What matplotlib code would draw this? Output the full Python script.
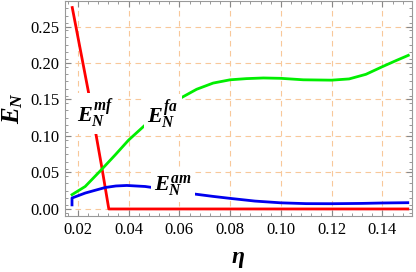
import numpy as np
import matplotlib.pyplot as plt

plt.rcParams['font.family'] = ['Liberation Serif', 'DejaVu Serif']
plt.rcParams['mathtext.fontset'] = 'custom'
plt.rcParams['mathtext.rm'] = 'Liberation Serif:bold:italic'
plt.rcParams['mathtext.it'] = 'Liberation Serif:bold:italic'
plt.rcParams['mathtext.bf'] = 'Liberation Serif:bold:italic'

# values
eta_mf = [0.0178, 0.0242, 0.0295, 0.0322, 0.05, 0.10, 0.15]
en_mf = [0.276, 0.160, 0.056, 0.0, 0.0, 0.0, 0.0]

eta_fa = [0.0177, 0.0229, 0.0292, 0.0347, 0.040, 0.0472, 0.0535, 0.060, 0.0668,
          0.0733, 0.080, 0.0864, 0.0931, 0.10, 0.1088, 0.12, 0.1269, 0.1335,
          0.14, 0.1455, 0.1502]
en_fa = [0.0196, 0.0308, 0.0535, 0.074, 0.0944, 0.1172, 0.135, 0.151, 0.164,
         0.1725, 0.177, 0.1786, 0.1795, 0.179, 0.177, 0.1765, 0.1782, 0.1845,
         0.1950, 0.2035, 0.2105]

eta_am = [0.0177, 0.0177, 0.0229, 0.0262, 0.0308, 0.0350, 0.0393, 0.0465, 0.051,
          0.058, 0.0661, 0.0733, 0.080, 0.0898, 0.10, 0.11, 0.12, 0.1318, 0.14, 0.15]
en_am = [0.0056, 0.015, 0.0218, 0.025, 0.0294, 0.0315, 0.0322, 0.0308, 0.0286,
         0.0245, 0.0204, 0.0172, 0.0145, 0.0108, 0.0084, 0.0073, 0.0072, 0.0076, 0.0082, 0.0086]

xticks = [0.02, 0.04, 0.06, 0.08, 0.10, 0.12, 0.14]
yticks = [0.00, 0.05, 0.10, 0.15, 0.20, 0.25]

fig = plt.figure(figsize=(4.16, 2.72), dpi=100)
ax = fig.add_axes([0.156, 0.206, 0.834, 0.792])

ax.plot(eta_mf, en_mf, color='#ff0000', lw=2, zorder=3)
ax.plot(eta_fa, en_fa, color='#00ee00', lw=2, zorder=3, solid_joinstyle='round')
ax.plot(eta_am, en_am, color='#0000ee', lw=2, zorder=3, solid_joinstyle='round')

box = dict(facecolor='white', edgecolor='none', pad=2.5)
ax.text(0.0271, 0.131, r'$E_N^{mf}$', fontsize=16, ha='center', va='center', bbox=box, zorder=4)
ax.text(0.0535, 0.130, r'$E_N^{fa}$', fontsize=16, ha='center', va='center', bbox=box, zorder=4)
ax.text(0.0575, 0.0318, r'$E_N^{am}$', fontsize=16, ha='center', va='center', bbox=box, zorder=4)

ax.set_xlim(0.0149, 0.1516)
ax.set_ylim(-0.0096, 0.2856)
ax.set_xticks(xticks)
ax.set_yticks(yticks)
ax.set_xticklabels(['%.2f' % t for t in xticks])
ax.set_yticklabels(['%.2f' % t for t in yticks])
ax.set_xticks(np.arange(0.016, 0.152, 0.004), minor=True)
ax.set_yticks(np.arange(-0.005, 0.285, 0.01), minor=True)
ax.tick_params(which='both', direction='in', top=True, right=True, color='#888888',
               labelsize=12, pad=4)
ax.tick_params(which='major', length=4)
ax.tick_params(which='minor', length=2)
for s in ax.spines.values():
    s.set_color('#999999')

ax.grid(True, which='major', color='#f8c89a', linestyle=(0, (5, 4)), lw=0.8)

ax.set_xlabel(r'$\eta$', fontsize=17, labelpad=8)
ax.set_ylabel(r'$E_N$', fontsize=18, labelpad=4)

fig.savefig('out.png', dpi=100)
